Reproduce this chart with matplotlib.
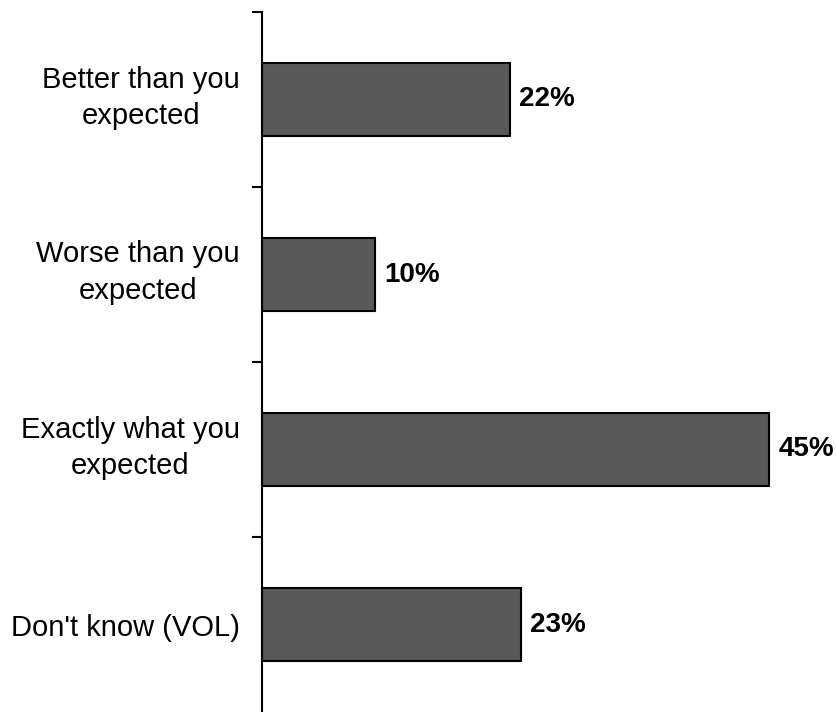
import matplotlib
matplotlib.use("Agg")
import matplotlib.pyplot as plt
import matplotlib.transforms as mtransforms
import numpy as np

plt.rcParams['font.family'] = ['Liberation Sans', 'DejaVu Sans']

categories = ["Better than you\nexpected", "Worse than you\nexpected",
              "Exactly what you\nexpected", "Don't know (VOL)"]
values = [22, 10, 45, 23]
value_labels = ["22%", "10%", "45%", "23%"]

fig = plt.figure(figsize=(8.37, 7.12), dpi=100)
ax = fig.add_axes([262/837, 0.0, (837-262)/837, 700/712])

y = np.arange(len(categories))
ax.barh(y, values, height=0.42, color="#595959", edgecolor="black", linewidth=1.5)
ax.set_ylim(len(categories) - 0.5, -0.5)
ax.set_xlim(0, 51)

for yi, v, lab in zip(y, values, value_labels):
    ax.text(v + 0.8, yi, lab, va="center", ha="left", fontsize=20, fontweight="bold")

ax.set_yticks(y)
ax.set_yticklabels(categories, fontsize=21, multialignment="center", linespacing=1.37)
ax.tick_params(axis="y", which="major", length=0, pad=16)
ax.set_yticks(np.arange(-0.5, len(categories) - 0.5, 1), minor=True)
ax.tick_params(axis="y", which="minor", length=7, width=1.5, direction="out")
ax.set_xticks([])
for s in ["top", "right", "bottom"]:
    ax.spines[s].set_visible(False)
ax.spines["left"].set_linewidth(1.5)

offset = mtransforms.ScaledTranslation(0, 9/100, fig.dpi_scale_trans)
for lbl, cat in zip(ax.get_yticklabels(), categories):
    if "\n" in cat:
        lbl.set_transform(lbl.get_transform() + offset)

fig.savefig("out.png", dpi=100)
